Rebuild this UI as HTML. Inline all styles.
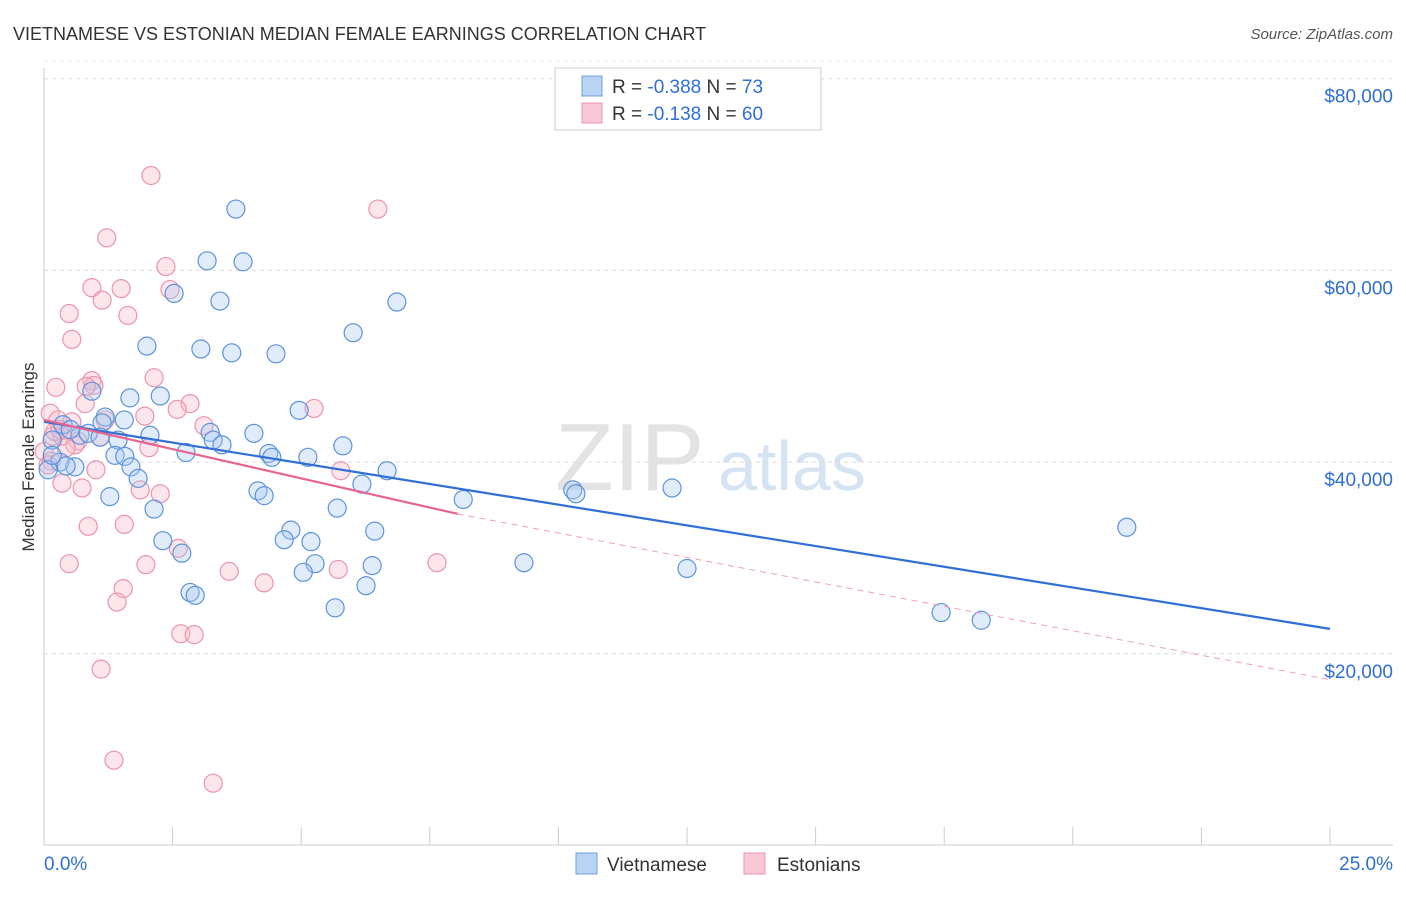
<!DOCTYPE html>
<html><head><meta charset="utf-8"><style>
body{margin:0;background:#fff;font-family:"Liberation Sans",sans-serif;}
svg text{font-family:"Liberation Sans",sans-serif;}
</style></head><body>
<svg id="chart" width="1406" height="892" viewBox="0 0 1406 892" xmlns="http://www.w3.org/2000/svg">
<text x="13" y="40" font-size="18" fill="#333">VIETNAMESE VS ESTONIAN MEDIAN FEMALE EARNINGS CORRELATION CHART</text>
<text x="1393" y="39" font-size="15" fill="#555" text-anchor="end" font-style="italic">Source: ZipAtlas.com</text>
<g>
<text x="555" y="490" font-size="96" fill="#e3e3e3" font-family="Liberation Serif, serif">ZIP</text>
<text x="718" y="490" font-size="70" fill="#d5e3f3">atlas</text>
</g>
<g id="grid"></g>
<g id="axes"></g>
<g id="pts"></g>
<g id="trends"></g>
<g>
<rect x="555" y="68" width="266" height="62" fill="#fff" stroke="#ccc"/>
<rect x="582" y="76" width="20" height="20" fill="#b9d3f3" stroke="#6f9fe0"/>
<rect x="582" y="103" width="20" height="20" fill="#f9c8d6" stroke="#ec93ae"/>
<text x="612" y="93" font-size="19" fill="#333">R = <tspan fill="#2f6fd6">-0.388</tspan>   N = <tspan fill="#2f6fd6">73</tspan></text>
<text x="612" y="120" font-size="19" fill="#333">R =  <tspan fill="#2f6fd6">-0.138</tspan>   N = <tspan fill="#2f6fd6">60</tspan></text>
</g>
<g>
<rect x="576" y="853" width="21" height="21" fill="#b9d3f3" stroke="#6f9fe0"/>
<text x="607" y="871" font-size="19" fill="#333">Vietnamese</text>
<rect x="744" y="853" width="21" height="21" fill="#f9c8d6" stroke="#ec93ae"/>
<text x="777" y="871" font-size="19" fill="#333">Estonians</text>
</g>
<text transform="translate(34,457) rotate(-90)" font-size="17" fill="#333" text-anchor="middle">Median Female Earnings</text>
</svg>
<script>
const yTicks=[20000,40000,60000,80000];
const yTickLabels=["$20,000","$40,000","$60,000","$80,000"];
const xTickLabels=["0.0%","25.0%"];
const blueX=[3.73,3.17,3.87,2.53,3.42,6.86,6.01,2.00,3.05,3.65,4.51,0.93,1.67,2.26,4.96,1.19,1.13,1.56,0.37,0.70,1.44,2.06,3.23,4.08,3.29,5.81,3.46,2.76,4.37,4.43,5.13,1.38,1.57,0.31,0.60,1.69,6.67,1.83,6.18,4.16,4.28,1.28,8.15,10.28,10.34,12.21,2.14,5.70,4.80,6.43,2.31,4.67,5.19,2.68,5.27,6.38,5.04,9.33,12.50,6.26,2.84,2.94,5.66,17.44,18.22,21.05,0.08,0.16,0.51,0.86,1.09,0.16,0.43];
const blueY=[66.4,61.0,60.9,57.6,56.8,56.7,53.5,52.1,51.8,51.4,51.3,47.4,46.7,46.9,45.4,44.7,44.1,44.4,43.9,42.8,42.3,42.8,43.1,43.0,42.3,41.7,41.8,41.0,40.9,40.5,40.5,40.7,40.6,40.0,39.5,39.5,39.1,38.3,37.7,37.0,36.5,36.4,36.1,37.1,36.7,37.3,35.1,35.2,32.9,32.8,31.8,31.9,31.7,30.5,29.4,29.2,28.5,29.5,28.9,27.1,26.4,26.1,24.8,24.3,23.5,33.2,39.2,42.3,43.4,43.0,42.6,40.7,39.6];
const pinkX=[2.08,6.49,1.22,2.37,0.93,1.50,2.45,1.13,0.49,1.63,0.54,0.23,0.93,0.97,2.14,0.82,0.80,2.84,5.25,1.96,2.59,3.11,0.12,0.27,0.54,0.17,0.35,1.09,0.66,2.04,0.0,0.14,1.01,5.77,0.35,0.74,1.87,2.26,0.86,1.56,2.61,0.49,1.98,3.60,5.72,7.64,4.28,1.54,1.42,2.66,2.92,1.11,1.36,3.29,0.08,0.60,0.43,1.19,0.21,0.31];
const pinkY=[69.9,66.4,63.4,60.4,58.2,58.1,58.0,56.9,55.5,55.3,52.8,47.8,48.5,48.0,48.8,47.9,46.1,46.1,45.6,44.8,45.5,43.8,45.1,44.4,44.2,42.7,42.7,42.6,42.2,41.5,41.1,40.1,39.2,39.1,37.8,37.3,37.1,36.7,33.3,33.5,31.0,29.4,29.3,28.6,28.8,29.5,27.4,26.8,25.4,22.1,22.0,18.4,8.9,6.5,39.7,41.8,41.5,44.4,43.2,43.4];
const blueTrend=[[0,44.2],[25,22.6]];
const pinkTrendSolid=[[0,44.4],[8.04,34.6]];
const pinkTrendDash=[[8.04,34.6],[25,17.3]];

const X0=44,X1=1330,Y0=845.5,YPER=191.7/20000;
const sx=v=>X0+(v/25)*(X1-X0);
const sy=v=>Y0-v*YPER;
const NS="http://www.w3.org/2000/svg";
function mk(t,a,p){const e=document.createElementNS(NS,t);for(const k in a)e.setAttribute(k,a[k]);p.appendChild(e);return e;}
const grid=document.getElementById('grid'),axes=document.getElementById('axes');
yTicks.forEach((v,i)=>{
 const g=mk('line',{x1:44,x2:1393,y1:sy(v),y2:sy(v),stroke:'#ddd','stroke-dasharray':'4,4'},grid);
 
 
 const t=mk('text',{x:1393,y:sy(v)+24,'font-size':19,fill:'#2f6fd6','text-anchor':'end'},axes);
 t.textContent=yTickLabels[i];
 
 
});
mk('line',{x1:44,x2:1393,y1:sy(80000)-18,y2:sy(80000)-18,stroke:'#eee','stroke-dasharray':'4,4'},grid);
mk('line',{x1:44,x2:44,y1:68,y2:845,stroke:'#ccc'},axes);
mk('line',{x1:44,x2:1393,y1:845,y2:845,stroke:'#ccc'},axes);
for(let i=0;i<=10;i++){const x=sx(i*2.5);const l=mk('line',{x1:x,x2:x,y1:827,y2:845,stroke:'#ccc'},axes);
 
 }
const xl0=mk('text',{x:44,y:870,'font-size':19,fill:'#2f6fd6'},axes);xl0.textContent=xTickLabels[0];


const xl1=mk('text',{x:1393,y:870,'font-size':19,fill:'#2f6fd6','text-anchor':'end'},axes);xl1.textContent=xTickLabels[1];


const pts=document.getElementById('pts');
function draw(xs,ys,fill,stroke,name){xs.forEach((x,i)=>{
 const c=mk('circle',{cx:sx(x),cy:sy(ys[i]*1000),r:9,fill:fill,'fill-opacity':0.35,stroke:stroke,'stroke-width':1.2},pts);
 
 });}
draw(pinkX,pinkY,'#f7b6c9','#ec93ae','estonian-point');
draw(blueX,blueY,'#a9c8f0','#5d93dc','vietnamese-point');
const tr=document.getElementById('trends');
function line(seg,stroke,w,dash,name){const a={x1:sx(seg[0][0]),y1:sy(seg[0][1]*1000),x2:sx(seg[1][0]),y2:sy(seg[1][1]*1000),stroke:stroke,'stroke-width':w};if(dash)a['stroke-dasharray']=dash;
 const l=mk('line',a,tr);
 
 }
line(blueTrend,'#2f6fd6',2.2,null,'vietnamese-trend-line');
line(pinkTrendSolid,'#e8648f',2.2,null,'estonian-trend-line');
line(pinkTrendDash,'#eea0b8',1,'6,5','estonian-trend-extension');
</script>
</body></html>
